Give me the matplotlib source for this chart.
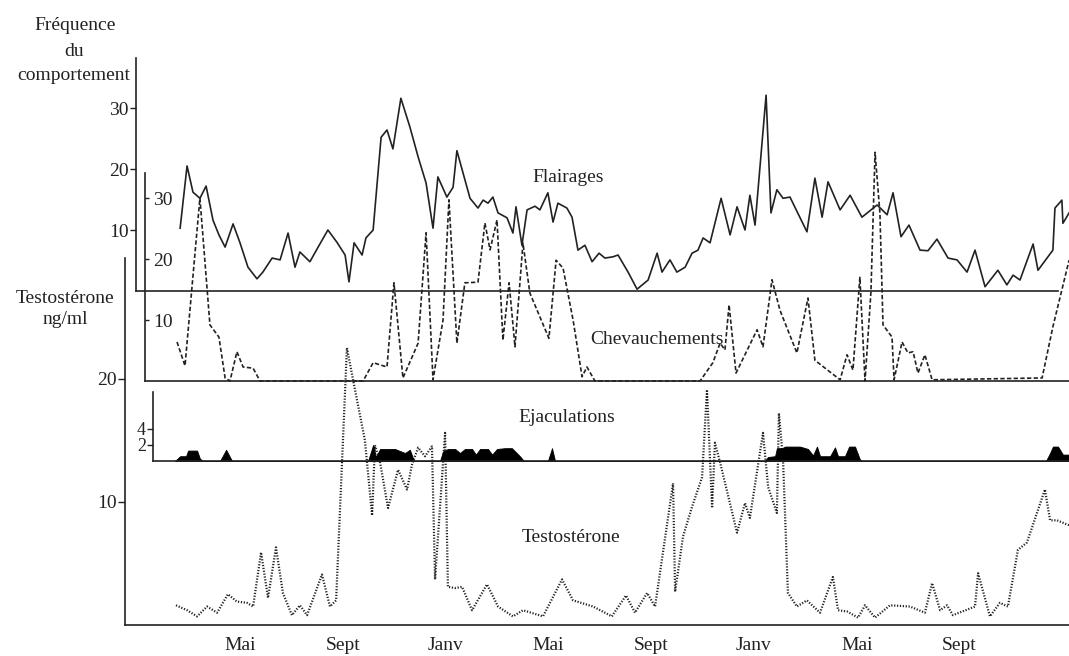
import numpy as np
import matplotlib
matplotlib.use('Agg')
import matplotlib.pyplot as plt

plt.rcParams['font.family'] = ['Liberation Serif', 'DejaVu Serif']

# x values are months from January of year 1 (Mai = 4, Sept = 8, Janv = 12 ...)
month_ticks = [4, 8, 12, 16, 20, 24, 28, 32]
month_labels = ['Mai', 'Sept', 'Janv', 'Mai', 'Sept', 'Janv', 'Mai', 'Sept']

# Flairages (solid line)
flair_t = [1.67, 1.94, 2.17, 2.44, 2.68, 2.95, 3.18, 3.42, 3.73, 4.00, 4.31, 4.66, 4.89, 5.25,
           5.56, 5.87, 6.14, 6.33, 6.72, 7.04, 7.42, 7.77, 8.09, 8.24, 8.44, 8.75, 8.90, 9.18,
           9.49, 9.72, 9.95, 10.26, 10.61, 10.93, 11.24, 11.51, 11.70, 12.05, 12.29, 12.44,
           12.95, 13.26, 13.46, 13.65, 13.84, 14.04, 14.39, 14.62, 14.74, 14.97, 15.17, 15.48,
           15.67, 15.98, 16.18, 16.37, 16.72, 16.92, 17.15, 17.42, 17.70, 17.97, 18.20, 18.51,
           18.71, 19.10, 19.45, 19.88, 20.23, 20.42, 20.73, 21.00, 21.32, 21.59, 21.82, 22.02,
           22.29, 22.72, 23.07, 23.34, 23.65, 23.84, 24.04, 24.47, 24.66, 24.89, 25.13, 25.40,
           26.06, 26.37, 26.65, 26.88, 27.35, 27.74, 28.20, 28.79, 29.18, 29.41, 29.72, 30.03,
           30.46, 30.77, 31.12, 31.55, 31.90, 32.29, 32.60, 32.99, 33.49, 33.84, 34.08, 34.35,
           34.86, 35.05, 35.63, 35.71, 35.98, 36.02, 36.26]
flair_v = [10.3, 20.5, 16.2, 15.2, 17.2, 11.6, 9.2, 7.2, 11.0, 7.9, 3.9, 2.0, 3.1, 5.4,
           5.1, 9.5, 3.9, 6.4, 4.8, 7.2, 10.0, 8.0, 5.9, 1.5, 7.9, 5.9, 8.7, 10.0,
           25.2, 26.4, 23.3, 31.6, 26.9, 22.0, 17.7, 10.3, 18.7, 15.4, 17.0, 23.0,
           15.2, 13.6, 14.9, 14.4, 15.4, 12.8, 12.0, 9.5, 13.8, 7.5, 13.3, 13.9,
           13.3, 16.1, 11.3, 14.4, 13.6, 12.1, 6.7, 7.5, 4.8, 6.2, 5.4, 5.6,
           5.9, 3.1, 0.3, 1.8, 6.2, 3.1, 5.1, 3.1, 3.9, 6.2, 6.7, 8.7,
           7.9, 15.2, 9.2, 13.8, 10.0, 15.7, 10.8, 32.1, 12.8, 16.6, 15.2, 15.4,
           9.7, 18.5, 12.1, 17.9, 13.3, 15.7, 12.1, 14.1, 12.5, 16.1, 8.9, 10.8,
           6.7, 6.6, 8.5, 5.4, 5.1, 3.1, 6.7, 0.7, 3.4, 1.0, 2.6, 1.8,
           7.7, 3.4, 6.7, 13.6, 14.9, 11.1, 12.8]

# Chevauchements (dashed line)
chev_t = [1.55, 1.86, 2.44, 2.83, 3.18, 3.42, 3.61, 3.88, 4.12, 4.51, 4.78, 8.79, 9.18, 9.72,
          9.99, 10.34, 10.93, 11.24, 11.51, 11.90, 12.13, 12.44, 12.75, 13.26, 13.53, 13.73,
          14.00, 14.23, 14.47, 14.70, 15.01, 15.28, 16.02, 16.30, 16.57, 16.96, 17.31, 17.50,
          17.81, 21.90, 22.40, 22.68, 22.87, 23.03, 23.30, 24.12, 24.35, 24.70, 25.01, 25.67,
          26.10, 26.37, 27.35, 27.62, 27.85, 28.12, 28.32, 28.55, 28.71, 28.90, 29.02, 29.37,
          29.45, 29.76, 29.99, 30.19, 30.38, 30.65, 30.93, 35.21, 35.63, 36.26]
chev_v = [6.4, 2.5, 30.0, 9.2, 7.2, 0.5, 0.0, 4.8, 2.3, 2.1, 0.0, 0.0, 3.0, 2.3,
          16.1, 0.5, 6.2, 24.3, 0.2, 10.0, 29.7, 6.2, 16.1, 16.2, 25.9, 21.5,
          26.4, 6.7, 16.1, 5.6, 22.6, 14.4, 7.0, 19.8, 18.5, 10.0, 0.7, 2.3,
          0.0, 0.0, 3.0, 6.2, 5.1, 12.5, 1.3, 8.4, 5.6, 16.6, 11.6, 4.6,
          13.6, 3.4, 0.2, 4.3, 1.8, 17.0, 0.0, 14.6, 37.5, 27.5, 9.2, 7.2,
          0.2, 6.4, 4.6, 4.8, 1.3, 4.3, 0.2, 0.5, 8.9, 19.8]

# Ejaculations (filled black)
ejac_t = [1.47, 1.67, 1.90, 1.98, 2.33, 2.44, 2.56, 3.22, 3.46, 3.69, 8.98, 9.10, 9.18, 9.29,
          9.45, 10.03, 10.42, 10.61, 10.77, 11.78, 11.90, 12.09, 12.37, 12.56, 12.75, 13.03,
          13.18, 13.34, 13.65, 13.81, 14.00, 14.31, 14.58, 14.89, 15.05, 15.98, 16.14, 16.26,
          24.43, 24.54, 24.82, 24.89, 25.09, 25.21, 25.79, 26.10, 26.30, 26.45, 26.57, 26.96,
          27.15, 27.27, 27.54, 27.70, 27.93, 28.12, 28.20, 35.36, 35.52, 35.63, 35.83, 36.02,
          36.26]
ejac_v = [0.0, 0.6, 0.6, 1.3, 1.3, 0.3, 0.0, 0.0, 1.4, 0.0, 0.0, 1.2, 2.0, 0.5,
          1.5, 1.5, 1.0, 1.4, 0.0, 0.0, 1.2, 1.5, 1.5, 1.0, 1.5, 1.5,
          0.8, 1.5, 1.5, 0.8, 1.5, 1.6, 1.6, 0.6, 0.0, 0.0, 1.6, 0.0,
          0.0, 0.5, 0.6, 1.6, 1.6, 1.8, 1.8, 1.5, 0.7, 1.8, 0.6, 0.6,
          1.7, 0.6, 0.6, 1.8, 1.8, 0.2, 0.0, 0.0, 1.0, 1.8, 1.8, 0.8,
          0.8]

# Testosterone (dotted line), ng/ml
testo_t = [1.51, 1.94, 2.33, 2.72, 3.11, 3.53, 3.88, 4.27, 4.51, 4.82, 5.09, 5.40, 5.67, 6.02,
           6.33, 6.61, 7.19, 7.50, 7.74, 8.16, 8.40, 8.86, 9.14, 9.25, 9.45, 9.76, 10.15, 10.50,
           10.69, 10.93, 11.20, 11.47, 11.59, 11.98, 12.09, 12.37, 12.64, 13.03, 13.61, 14.04,
           14.62, 15.01, 15.79, 16.53, 16.96, 17.74, 18.47, 19.02, 19.37, 19.84, 20.15, 20.85,
           20.93, 21.24, 21.59, 21.98, 22.17, 22.37, 22.48, 22.68, 23.34, 23.65, 23.84, 24.35,
           24.55, 24.89, 24.97, 25.13, 25.32, 25.67, 26.06, 26.57, 27.07, 27.27, 27.62, 28.05,
           28.32, 28.71, 29.29, 30.07, 30.65, 30.93, 31.24, 31.51, 31.74, 32.60, 32.72, 33.18,
           33.57, 33.88, 34.27, 34.62, 35.32, 35.52, 35.79, 36.26]
testo_v = [1.6, 1.2, 0.7, 1.5, 1.0, 2.5, 1.9, 1.8, 1.5, 5.9, 2.2, 6.3, 2.6, 0.8,
           1.6, 0.8, 4.1, 1.5, 2.0, 22.5, 19.9, 15.0, 8.9, 14.6, 13.2, 9.5, 12.6, 11.0,
           13.0, 14.4, 13.7, 14.5, 3.7, 15.6, 3.1, 3.0, 3.1, 1.2, 3.3, 1.5,
           0.7, 1.2, 0.7, 3.7, 2.0, 1.5, 0.7, 2.4, 1.0, 2.6, 1.5, 11.5,
           2.7, 7.2, 9.6, 12.0, 19.1, 9.5, 14.8, 13.2, 7.5, 9.9, 8.7, 15.6,
           11.2, 9.1, 17.2, 13.4, 2.6, 1.5, 2.0, 1.0, 3.9, 1.2, 1.1, 0.6,
           1.6, 0.6, 1.6, 1.5, 1.0, 3.4, 1.2, 1.6, 0.8, 1.5, 4.2, 0.7,
           1.8, 1.5, 6.1, 6.7, 11.0, 8.5, 8.5, 8.1]

W, H = 1069, 656
INK = '#222222'
FS = 14


def month_at(px):
    # horizontal pixel -> month, same mapping for every panel
    return 4 + (px - 240) / 25.7


def make_axes(fig, left, right, top, bottom, ymax):
    ax = fig.add_axes([left / W, 1 - bottom / H, (right - left) / W, (bottom - top) / H])
    ax.patch.set_visible(False)
    ax.set_xlim(month_at(left), month_at(right))
    ax.set_ylim(0, ymax)
    for s in ['top', 'right']:
        ax.spines[s].set_visible(False)
    for s in ['left', 'bottom']:
        ax.spines[s].set_color(INK)
        ax.spines[s].set_linewidth(1.2)
    ax.set_xticks([])
    return ax


fig = plt.figure(figsize=(W / 100, H / 100), dpi=100)

# testosterone panel (back)
ax_t = make_axes(fig, 125, 1069, 258, 625, 29.8)
ax_t.plot(testo_t, testo_v, color=INK, lw=1.6, ls=(0, (0.55, 0.75)), clip_on=False)
ax_t.set_yticks([10, 20])
ax_t.tick_params(axis='y', length=5, width=1, color=INK, labelsize=FS, pad=1, labelcolor=INK)
ax_t.set_xticks(month_ticks)
ax_t.set_xticklabels(month_labels)
ax_t.tick_params(axis='x', length=0, labelsize=FS, pad=9, labelcolor=INK)

# flairages panel
ax_f = make_axes(fig, 136, 1069, 58, 291, 38.2)
ax_f.spines['bottom'].set_bounds(month_at(136), month_at(1058))
ax_f.plot(flair_t, flair_v, color=INK, lw=1.2, clip_on=False)
ax_f.set_yticks([10, 20, 30])
ax_f.tick_params(axis='y', length=4, width=1, color=INK, labelsize=FS, pad=1, labelcolor=INK)

# chevauchements panel, ticks and labels inside
ax_c = make_axes(fig, 145, 1069, 173, 381, 34.1)
ax_c.plot(chev_t, chev_v, color=INK, lw=1.2, ls=(0, (2.6, 1.4)), clip_on=False)
ax_c.set_yticks([10, 20, 30])
ax_c.tick_params(axis='y', direction='in', length=3, width=1, color=INK,
                 labelsize=FS, pad=-6, labelcolor=INK)
for lab in ax_c.get_yticklabels():
    lab.set_horizontalalignment('left')

# ejaculations panel
ax_e = make_axes(fig, 153, 1069, 392, 461, 8.6)
ax_e.fill_between(ejac_t, 0, ejac_v, color='black', lw=0.6, edgecolor='black')
ax_e.set_yticks([2, 4])
ax_e.tick_params(axis='y', length=4, width=1, color=INK, labelsize=FS - 1, pad=1, labelcolor=INK)

# titles and series names
txt = dict(color=INK, fontsize=FS, ha='center', va='center')
fig.text(75 / W, 1 - 25 / H, 'Fréquence', **txt)
fig.text(74 / W, 1 - 51 / H, 'du', **txt)
fig.text(74 / W, 1 - 75 / H, 'comportement', **txt)
fig.text(65 / W, 1 - 298 / H, 'Testostérone', **txt)
fig.text(65 / W, 1 - 320 / H, 'ng/ml', **txt)
fig.text(568 / W, 1 - 178 / H, 'Flairages', **txt)
fig.text(590 / W, 1 - 340 / H, 'Chevauchements', color=INK, fontsize=FS, ha='left', va='center')
fig.text(567 / W, 1 - 417 / H, 'Ejaculations', **txt)
fig.text(571 / W, 1 - 538 / H, 'Testostérone', **txt)

fig.savefig('out.png', dpi=100)
